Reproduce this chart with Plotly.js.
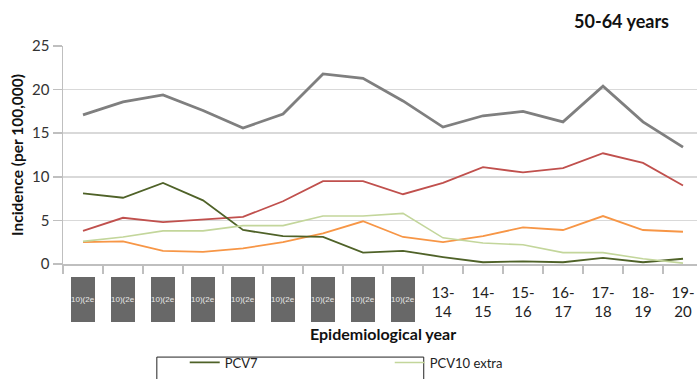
<!DOCTYPE html>
<html>
<head>
<meta charset="utf-8">
<script src="https://cdn.plot.ly/plotly-3.0.1.min.js"></script>
<style>
html,body{margin:0;padding:0;background:#fff;}
#chart{width:697px;height:379px;}
</style>
</head>
<body>
<div id="chart"></div>
<script>
// Epidemiological years (x categories)
const years = ["04-05","05-06","06-07","07-08","08-09","09-10","10-11","11-12","12-13",
               "13-14","14-15","15-16","16-17","17-18","18-19","19-20"];
// Tick labels as shown in the picture (first nine are rendered as grey boxes)
const tickLabels = ["","","","","","","","","",
                    "13-<br>14","14-<br>15","15-<br>16","16-<br>17","17-<br>18","18-<br>19","19-<br>20"];
const boxedCount = 9;
const boxText = "10)(2e";

// Series values (incidence per 100,000)
const total      = [17.1,18.6,19.4,17.6,15.6,17.2,21.8,21.3,18.7,15.7,17.0,17.5,16.3,20.4,16.3,13.4];
const redSeries  = [3.8,5.3,4.8,5.1,5.4,7.2,9.5,9.5,8.0,9.3,11.1,10.5,11.0,12.7,11.6,9.0];
const orange     = [2.5,2.6,1.5,1.4,1.8,2.5,3.5,4.9,3.1,2.5,3.2,4.2,3.9,5.5,3.9,3.7];
const pcv10extra = [2.6,3.1,3.8,3.8,4.4,4.4,5.5,5.5,5.8,3.0,2.4,2.2,1.3,1.3,0.6,0.1];
const pcv7       = [8.1,7.6,9.3,7.3,3.9,3.2,3.1,1.3,1.5,0.8,0.2,0.3,0.2,0.7,0.2,0.6];

const traces = [
  {x: years, y: total, name: "Total", mode: "lines", line: {color: "#7f7f7f", width: 2.8}, showlegend: false},
  {x: years, y: redSeries, name: "Non-PCV", mode: "lines", line: {color: "#c0504d", width: 1.8}, showlegend: false},
  {x: years, y: orange, name: "PCV13 extra", mode: "lines", line: {color: "#f79646", width: 1.8}, showlegend: false},
  {x: years, y: pcv7, name: "PCV7", mode: "lines", line: {color: "#4f6228", width: 1.8}, showlegend: true},
  {x: years, y: pcv10extra, name: "PCV10 extra", mode: "lines", line: {color: "#c3d69b", width: 1.6}, showlegend: true}
];

const shapes = [];
const annotations = [];
for (let i = 0; i < boxedCount; i++) {
  shapes.push({type: "rect", xref: "x", yref: "paper", x0: i - 0.3, x1: i + 0.3,
               y0: -0.266, y1: -0.06, fillcolor: "#686868", line: {width: 0}, layer: "above"});
  annotations.push({xref: "x", yref: "paper", x: i, y: -0.163, text: boxText, showarrow: false,
                    font: {family: "Liberation Sans, Arial", size: 8, color: "#e8e8e8"},
                    xanchor: "center", yanchor: "middle"});
}
const font = "Lato, 'Open Sans', sans-serif";
// x-axis title
annotations.push({xref: "paper", yref: "paper", x: 0.505, y: -0.317, text: "<b>Epidemiological year</b>",
                  showarrow: false, xanchor: "center", yanchor: "middle",
                  font: {family: font, size: 16, color: "#111"}});
// legend frame
shapes.push({type: "rect", xref: "paper", yref: "paper", x0: 0.148, x1: 0.569, y0: -0.60, y1: -0.427,
             line: {color: "#222", width: 1}, fillcolor: "rgba(0,0,0,0)"});

const layout = {
  width: 697, height: 379,
  margin: {l: 63, r: 0, t: 46, b: 115, autoexpand: false},
  paper_bgcolor: "#fff", plot_bgcolor: "#fff",
  font: {family: font, color: "#222"},
  title: {text: "<b>50-64 years</b>", x: 669/697, xanchor: "right", xref: "container",
          y: 1 - 22/379, yanchor: "middle", yref: "container",
          font: {family: font, size: 18, color: "#111"}},
  xaxis: {
    type: "category", automargin: false,
    range: [-0.5, 15.35],
    tickvals: years, ticktext: tickLabels,
    tickson: "boundaries", ticks: "outside", ticklen: 8, tickcolor: "#bfbfbf", tickwidth: 1.5,
    ticklabelstandoff: 14,
    showline: true, linecolor: "#bfbfbf", linewidth: 1.5,
    showgrid: false, zeroline: false,
    tickfont: {family: font, size: 15, color: "#222"}
  },
  yaxis: {
    automargin: false,
    range: [0, 25], dtick: 5,
    ticks: "outside", ticklen: 9, tickcolor: "#bfbfbf", tickwidth: 1.5,
    showline: true, linecolor: "#bfbfbf", linewidth: 1.5,
    showgrid: true, gridcolor: "#d9d9d9", gridwidth: 1.5, zeroline: false,
    tickfont: {family: font, size: 15, color: "#333"},
    title: {text: "<b>Incidence (per 100,000)</b>", font: {family: font, size: 15.5, color: "#111"}, standoff: 4}
  },
  showlegend: true,
  legend: {orientation: "h", x: 0.192, xanchor: "left", y: -0.383, yanchor: "top",
           entrywidth: 160, entrywidthmode: "pixels",
           font: {family: font, size: 13, color: "#222"}, bgcolor: "rgba(0,0,0,0)", borderwidth: 0},
  shapes: shapes,
  annotations: annotations
};

Plotly.newPlot("chart", traces, layout, {displayModeBar: false, staticPlot: true});
</script>
</body>
</html>
